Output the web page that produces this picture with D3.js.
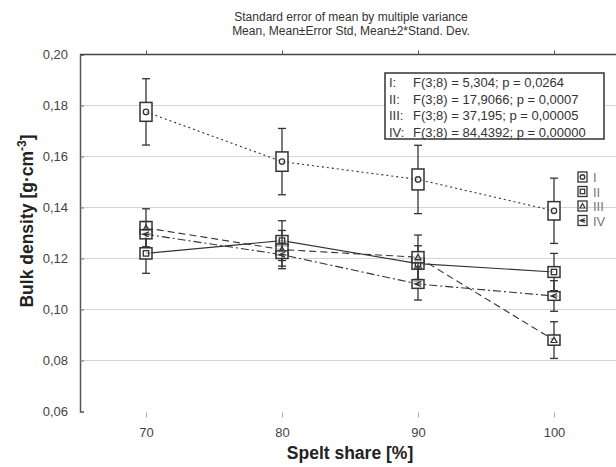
<!DOCTYPE html>
<html><head><meta charset="utf-8">
<script src="https://cdn.jsdelivr.net/npm/d3@7/dist/d3.min.js"></script>
<style>
body{margin:0;background:#fff;}
svg{display:block;font-family:"Liberation Sans",Arial,sans-serif;}
</style></head>
<body><svg id="c" width="616" height="467"></svg>
<script>
const categories = [70, 80, 90, 100];
const seriesNames = ["I", "II", "III", "IV"];
// means
const meanI   = [0.1775, 0.1580, 0.1510, 0.1387];
const meanII  = [0.1220, 0.1270, 0.1180, 0.1147];
const meanIII = [0.1320, 0.1235, 0.1205, 0.0880];
const meanIV  = [0.1295, 0.1215, 0.1100, 0.1053];
// standard errors (box half-height)
const seI   = [0.0037, 0.0038, 0.0041, 0.0036];
const seII  = [0.0022, 0.0020, 0.0022, 0.0021];
const seIII = [0.0025, 0.0022, 0.0022, 0.0020];
const seIV  = [0.0018, 0.0015, 0.0017, 0.0017];
// 2*SD (whisker half-length)
const sdI   = [0.0130, 0.0130, 0.0134, 0.0128];
const sdII  = [0.0078, 0.0078, 0.0070, 0.0073];
const sdIII = [0.0075, 0.0075, 0.0087, 0.0072];
const sdIV  = [0.0050, 0.0045, 0.0063, 0.0060];
const yTicks = [0.06, 0.08, 0.10, 0.12, 0.14, 0.16, 0.18, 0.20];
const statLines = [
  ["I:", "F(3;8) = 5,304; p = 0,0264"],
  ["II:", "F(3;8) = 17,9066; p = 0,0007"],
  ["III:", "F(3;8) = 37,195; p = 0,00005"],
  ["IV:", "F(3;8) = 84,4392; p = 0,00000"]
];
const titleLines = ["Standard error of mean by multiple variance", "Mean, Mean±Error Std, Mean±2*Stand. Dev."];

const series = [
  {name:"I",   mean:meanI,   se:seI,   sd:sdI,   dash:"2,3",      sym:"circle"},
  {name:"II",  mean:meanII,  se:seII,  sd:sdII,  dash:null,       sym:"square"},
  {name:"III", mean:meanIII, se:seIII, sd:sdIII, dash:"7,4",      sym:"triangle"},
  {name:"IV",  mean:meanIV,  se:seIV,  sd:sdIV,  dash:"8,3,2,3",  sym:"arrow"}
];

const svg = d3.select("#c");
const pLeft = 80, pTop = 54.5, pBottom = 411.5;
const x = d3.scaleLinear().domain([70, 100]).range([146, 554]);
const y = d3.scaleLinear().domain([0.06, 0.20]).range([pBottom, pTop]);
const fmt = v => d3.format(".2f")(v).replace(".", ",");
const ink = "#333";

// gridlines
svg.append("g").selectAll("line").data(yTicks.filter(v => v > 0.061 && v < 0.199)).join("line")
  .attr("x1", pLeft).attr("x2", 616).attr("y1", d => y(d)).attr("y2", d => y(d))
  .attr("stroke", "#d4d4d4").attr("stroke-width", 1);

// y axis
const yAxis = d3.axisLeft(y).tickValues(yTicks).tickFormat(fmt).tickSize(-4).tickPadding(12);
const gy = svg.append("g").attr("transform", `translate(${pLeft},0)`).call(yAxis);
gy.select(".domain").attr("stroke", "#555").attr("stroke-width", 1.5);
gy.selectAll(".tick line").attr("stroke", "#777");
gy.selectAll("text").attr("font-size", 13).attr("fill", "#444").attr("font-family", "Liberation Sans, Arial");

// top frame line with ticks
svg.append("line").attr("x1", pLeft).attr("x2", 616).attr("y1", pTop).attr("y2", pTop)
  .attr("stroke", "#444").attr("stroke-width", 1.5);
const xTop = d3.axisTop(x).tickValues(categories).tickSize(4).tickFormat("");
const gt = svg.append("g").attr("transform", `translate(0,${pTop})`).call(xTop);
gt.select(".domain").remove();
gt.selectAll(".tick line").attr("stroke", "#555");

// x axis (bottom ticks + labels, no line)
const xAxis = d3.axisBottom(x).tickValues(categories).tickSize(5).tickPadding(10).tickFormat(d3.format("d"));
const gx = svg.append("g").attr("transform", `translate(0,${pBottom + 1})`).call(xAxis);
gx.select(".domain").remove();
gx.selectAll(".tick line").attr("stroke", "#aaa");
gx.selectAll("text").attr("font-size", 13).attr("fill", "#444").attr("font-family", "Liberation Sans, Arial");

// titles
svg.append("g").selectAll("text").data(titleLines).join("text")
  .attr("x", 351).attr("y", (d, i) => 21 + i * 14).attr("text-anchor", "middle")
  .attr("font-size", 12).attr("fill", "#333").text(d => d);
svg.append("text").attr("x", 350).attr("y", 459).attr("text-anchor", "middle")
  .attr("font-size", 17.5).attr("font-weight", "bold").attr("fill", "#222").text("Spelt share [%]");
const yt = svg.append("text").attr("transform", "translate(33,221) rotate(-90)")
  .attr("text-anchor", "middle").attr("font-size", 17.5).attr("font-weight", "bold").attr("fill", "#222");
yt.append("tspan").text("Bulk density [g·cm");
yt.append("tspan").attr("dy", -7).attr("font-size", 12).text("-3");
yt.append("tspan").attr("dy", 7).text("]");

// lines
const lineGen = d3.line().x((d, i) => x(categories[i])).y(d => y(d));
svg.append("g").selectAll("path").data(series).join("path")
  .attr("d", s => lineGen(s.mean)).attr("fill", "none")
  .attr("stroke", ink).attr("stroke-width", 1.1)
  .attr("stroke-dasharray", s => s.dash);

function drawSymbol(g, sym, cx, cy, s) {
  if (sym === "circle") {
    g.append("circle").attr("cx", cx).attr("cy", cy).attr("r", s * 0.45)
      .attr("fill", "none").attr("stroke", ink).attr("stroke-width", 1.3);
  } else if (sym === "square") {
    g.append("rect").attr("x", cx - s * 0.45).attr("y", cy - s * 0.45).attr("width", s * 0.9).attr("height", s * 0.9)
      .attr("fill", "none").attr("stroke", ink).attr("stroke-width", 1.3);
  } else if (sym === "triangle") {
    g.append("path").attr("d", `M${cx},${cy - s * 0.5}L${cx + s * 0.5},${cy + s * 0.4}L${cx - s * 0.5},${cy + s * 0.4}Z`)
      .attr("fill", "none").attr("stroke", ink).attr("stroke-width", 1.2);
  } else {
    g.append("path").attr("d", `M${cx + s * 0.5},${cy - s * 0.4}L${cx - s * 0.5},${cy}L${cx + s * 0.5},${cy + s * 0.4}M${cx - s * 0.5},${cy}L${cx + s * 0.6},${cy}`)
      .attr("fill", "none").attr("stroke", ink).attr("stroke-width", 1.2);
  }
}

// error bars + boxes
const bw = 12, cw = 8;
series.forEach(s => {
  const g = svg.append("g");
  categories.forEach((c, i) => {
    const cx = x(c), m = s.mean[i];
    const wt = y(m + s.sd[i]), wb = y(m - s.sd[i]);
    const bt = y(m + s.se[i]), bb = y(m - s.se[i]);
    g.append("line").attr("x1", cx).attr("x2", cx).attr("y1", wt).attr("y2", bt).attr("stroke", ink).attr("stroke-width", 1.3);
    g.append("line").attr("x1", cx).attr("x2", cx).attr("y1", bb).attr("y2", wb).attr("stroke", ink).attr("stroke-width", 1.3);
    [wt, wb].forEach(yy => g.append("line").attr("x1", cx - cw / 2).attr("x2", cx + cw / 2).attr("y1", yy).attr("y2", yy).attr("stroke", ink).attr("stroke-width", 1.3));
    g.append("rect").attr("x", cx - bw / 2).attr("y", bt).attr("width", bw).attr("height", bb - bt)
      .attr("fill", "#fff").attr("fill-opacity", 0.6).attr("stroke", ink).attr("stroke-width", 1.5);
    drawSymbol(g, s.sym, cx, y(m), 6);
  });
});

// stats box
const sb = svg.append("g");
sb.append("rect").attr("x", 385).attr("y", 73).attr("width", 219).attr("height", 66)
  .attr("fill", "#fff").attr("stroke", "#333").attr("stroke-width", 1.5);
statLines.forEach((l, i) => {
  sb.append("text").attr("x", 389).attr("y", 87 + i * 16.5).attr("font-size", 13).attr("fill", "#333").text(l[0]);
  sb.append("text").attr("x", 413).attr("y", 87 + i * 16.5).attr("font-size", 13).attr("fill", "#333").text(l[1]);
});

// legend
const lg = svg.append("g");
series.forEach((s, i) => {
  const ly = 177 + i * 14.5;
  lg.append("rect").attr("x", 578).attr("y", ly - 5).attr("width", 9).attr("height", 10)
    .attr("fill", "#fff").attr("stroke", ink).attr("stroke-width", 1.3);
  drawSymbol(lg, s.sym, 582.5, ly, 5);
  lg.append("text").attr("x", 593).attr("y", ly + 5).attr("font-size", 13).attr("fill", "#777").text(s.name);
});
</script></body></html>
